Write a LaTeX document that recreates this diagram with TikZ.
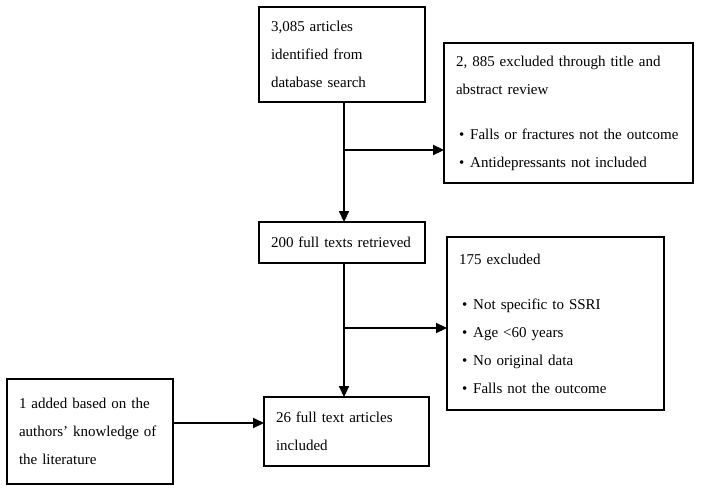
\documentclass[tikz,border=0pt]{standalone}
\usepackage{fontspec}
\setmainfont{Liberation Serif}
\usetikzlibrary{arrows.meta}

\tikzstyle{Block}=[rectangle,draw=black,line width=1.5pt,anchor=north west,
  align=left,inner xsep=12pt,inner ysep=0pt,outer sep=0pt,
  font=\fontsize{15}{28}\selectfont]
\tikzstyle{ArrowObject}=[black,line width=2.2pt,-{Triangle[length=11pt,width=10pt]}]
\newcommand{\Item}{\hspace*{3pt}\textbullet\hspace{6pt}}

\begin{document}
\begin{tikzpicture}[x=1pt, y=-1pt]
		\useasboundingbox (0,0) rectangle (701,492);
		
		% Boxes
		\draw(259,7) node[Block,text width=142pt,minimum height=95pt] (Identified)
		  {3,085 articles\\identified from\\database search};
		\draw(444,43) node[Block,text width=225pt,minimum height=140pt] (ExclTitle)
		  {2, 885 excluded through title and\\abstract review\\[17pt]
		   \Item Falls or fractures not the outcome\\\Item Antidepressants not included};
		\draw(259,222) node[Block,text width=142pt,minimum height=41pt] (Retrieved)
		  {200 full texts retrieved};
		\draw(447,237) node[Block,text width=193pt,minimum height=173pt] (ExclFull)
		  {175 excluded\\[17pt]\Item Not specific to SSRI\\\Item Age <60 years\\
		   \Item No original data\\\Item Falls not the outcome};
		\draw(264,397) node[Block,text width=141pt,minimum height=69pt] (Included)
		  {26 full text articles\\included};
		\draw(7,379) node[Block,text width=142pt,minimum height=105pt] (Added)
		  {1 added based on the\\authors’ knowledge of\\the literature};
		
		% Split points
		\coordinate (Split1) at (344,150);
		\coordinate (Split2) at (344,328);
		\coordinate (AddIn) at (Added.east |- 0,423);
		
		% Arrows
		\draw[ArrowObject] (Identified.south -| Split1) -- (Retrieved.north -| Split1);
		\draw[ArrowObject] (Split1) -- (Split1 -| ExclTitle.west);
		\draw[ArrowObject] (Retrieved.south -| Split2) -- (Included.north -| Split2);
		\draw[ArrowObject] (Split2) -- (Split2 -| ExclFull.west);
		\draw[ArrowObject] (AddIn) -- (AddIn -| Included.west);
		
	\end{tikzpicture}
\end{document}
